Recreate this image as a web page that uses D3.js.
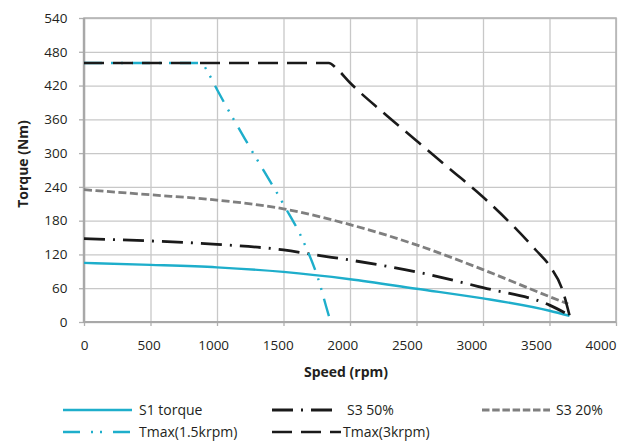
<!DOCTYPE html>
<html><head><meta charset="utf-8">
<script src="https://cdn.jsdelivr.net/npm/d3@7"></script>
<style>
body{margin:0;background:#fff}
svg{display:block}
text{font-family:"Open Sans","Noto Sans",sans-serif;fill:#231f20}
</style>
</head><body>
<svg id="chart" width="629" height="444"></svg>
<script>
// ---- data ----
const xTicks = [0, 500, 1000, 1500, 2000, 2500, 3000, 3500, 4000];
const yTicks = [0, 60, 120, 180, 240, 300, 360, 420, 480, 540];
const seriesNames = ["S1 torque", "S3 50%", "S3 20%", "Tmax(1.5krpm)", "Tmax(3krpm)"];

const s1Speed  = [0, 500, 1000, 1500, 2000, 2500, 3000, 3500, 3650];
const s1Torque = [105, 101.5, 97, 89, 76, 59, 42, 20, 11];

const s3_50Speed  = [0, 500, 1000, 1500, 1775, 2000, 2500, 3000, 3500, 3650];
const s3_50Torque = [148, 144, 138, 128, 118, 110, 89, 61, 30, 12];

const s3_20Speed  = [0, 500, 1000, 1500, 2000, 2500, 3000, 3500, 3640];
const s3_20Torque = [235, 226, 216.5, 201, 173, 137, 93, 45, 32];

const tmax15Speed  = [0, 880, 935, 1000, 1250, 1500, 1650, 1775, 1820, 1855];
const tmax15Torque = [460, 460, 442, 413, 309, 209, 143, 66, 28, 0];

const tmax3Speed  = [0, 1840, 1900, 2000, 2250, 2500, 2750, 3000, 3200, 3400, 3500, 3600, 3650];
const tmax3Torque = [460, 460, 450, 425, 372, 322, 272, 222, 177, 127, 100, 55, 12];

// ---- styles ----
const styles = [
  {color:"#1eaecb", width:2.4, dash:null,              legendDash:null},
  {color:"#1a1a1a", width:2.8, dash:"21,8,2,8",         legendDash:"21,8,2,8"},
  {color:"#7f7f7f", width:2.8, dash:"8,3.5",            legendDash:"7.5,2.7"},
  {color:"#1eaecb", width:2.4, dash:"18,9,2,8,2,9",     legendDash:"17,11,2,7,2,11"},
  {color:"#1a1a1a", width:2.6, dash:"20,9",             legendDash:"20,9"}
];
const legendLayout = [
  {x1:63, x2:132, y:410, tx:139},
  {x1:272, x2:332, y:410, tx:347},
  {x1:482, x2:550, y:410, tx:556},
  {x1:63, x2:132, y:432, tx:139},
  {x1:272, x2:341, y:432, tx:343}
];

const series = [
  [s1Speed, s1Torque],
  [s3_50Speed, s3_50Torque],
  [s3_20Speed, s3_20Torque],
  [tmax15Speed, tmax15Torque],
  [tmax3Speed, tmax3Torque]
].map(([sx, sy]) => sx.map((v, i) => [v, sy[i]]));

// ---- layout ----
const L = 84, R = 616, T = 18, B = 322;
const svg = d3.select("#chart");
const x = d3.scaleLinear().domain([0, 4000]).range([L, R]);
const xLab = d3.scaleLinear().domain([0, 4000]).range([L, 600.5]);
const y = d3.scaleLinear().domain([0, 540]).range([B, T]);

// grid
svg.append("g").attr("transform", `translate(0,${B})`)
  .call(d3.axisBottom(x).tickValues(xTicks).tickSize(-(B - T)).tickFormat(""))
  .call(g => g.select(".domain").remove())
  .call(g => g.selectAll("line").attr("stroke", "#c8c8c8").attr("stroke-width", 1.3));
svg.append("g").attr("transform", `translate(${L},0)`)
  .call(d3.axisLeft(y).tickValues(yTicks).tickSize(-(R - L)).tickFormat(""))
  .call(g => g.select(".domain").remove())
  .call(g => g.selectAll("line").attr("stroke", "#c8c8c8").attr("stroke-width", 1.3));

// outer ticks
svg.append("g").attr("transform", `translate(0,${B})`)
  .call(d3.axisBottom(x).tickValues(xTicks).tickSize(4).tickFormat(""))
  .call(g => g.select(".domain").remove())
  .call(g => g.selectAll("line").attr("stroke", "#b0b0b0").attr("stroke-width", 1.3));
svg.append("g").attr("transform", `translate(${L},0)`)
  .call(d3.axisLeft(y).tickValues(yTicks).tickSize(5).tickFormat(""))
  .call(g => g.select(".domain").remove())
  .call(g => g.selectAll("line").attr("stroke", "#b0b0b0").attr("stroke-width", 1.3));

// frame
svg.append("rect").attr("x", L).attr("y", T).attr("width", R - L).attr("height", B - T)
  .attr("fill", "none").attr("stroke", "#b4b4b4").attr("stroke-width", 1.6);
svg.append("line").attr("x1", L).attr("x2", L).attr("y1", T).attr("y2", B + 1)
  .attr("stroke", "#a8a8a8").attr("stroke-width", 2.4);
svg.append("line").attr("x1", L).attr("x2", R).attr("y1", B).attr("y2", B)
  .attr("stroke", "#a8a8a8").attr("stroke-width", 2.2);

// tick labels
svg.append("g").attr("transform", `translate(0,${B})`)
  .call(d3.axisBottom(xLab).tickValues(xTicks).tickSize(0).tickPadding(18.5).tickFormat(d3.format("d")))
  .call(g => g.select(".domain").remove())
  .call(g => g.selectAll("text").attr("font-size", "13.5px").attr("fill", "#231f20")
    .style("font-family", '"Open Sans","Noto Sans",sans-serif'));
svg.append("g").attr("transform", `translate(${L},0)`)
  .call(d3.axisLeft(y).tickValues(yTicks).tickSize(0).tickPadding(16.5).tickFormat(d3.format("d")))
  .call(g => g.select(".domain").remove())
  .call(g => g.selectAll("text").attr("font-size", "13.5px").attr("fill", "#231f20")
    .style("font-family", '"Open Sans","Noto Sans",sans-serif'));

// axis titles
svg.append("text").attr("x", 346).attr("y", 377).attr("text-anchor", "middle")
  .attr("font-size", "14px").attr("font-weight", "bold").text("Speed (rpm)");
svg.append("text").attr("transform", "translate(28,164) rotate(-90)").attr("text-anchor", "middle")
  .attr("font-size", "14px").attr("font-weight", "bold").text("Torque (Nm)");

// lines
const line = d3.line().x(d => x(d[0])).y(d => y(d[1])).curve(d3.curveMonotoneX);
const drawOrder = [2, 0, 1, 3, 4];
drawOrder.forEach(i => {
  svg.append("path").datum(series[i]).attr("d", line)
    .attr("fill", "none").attr("stroke", styles[i].color)
    .attr("stroke-width", styles[i].width)
    .attr("stroke-dasharray", styles[i].dash)
    .attr("stroke-linejoin", "round");
});

// legend
seriesNames.forEach((name, i) => {
  const p = legendLayout[i];
  svg.append("line").attr("x1", p.x1).attr("x2", p.x2).attr("y1", p.y).attr("y2", p.y)
    .attr("stroke", styles[i].color).attr("stroke-width", styles[i].width)
    .attr("stroke-dasharray", styles[i].legendDash);
  svg.append("text").attr("x", p.tx).attr("y", p.y).attr("dy", "0.35em")
    .attr("font-size", "14px").text(name);
});
</script>
</body></html>
